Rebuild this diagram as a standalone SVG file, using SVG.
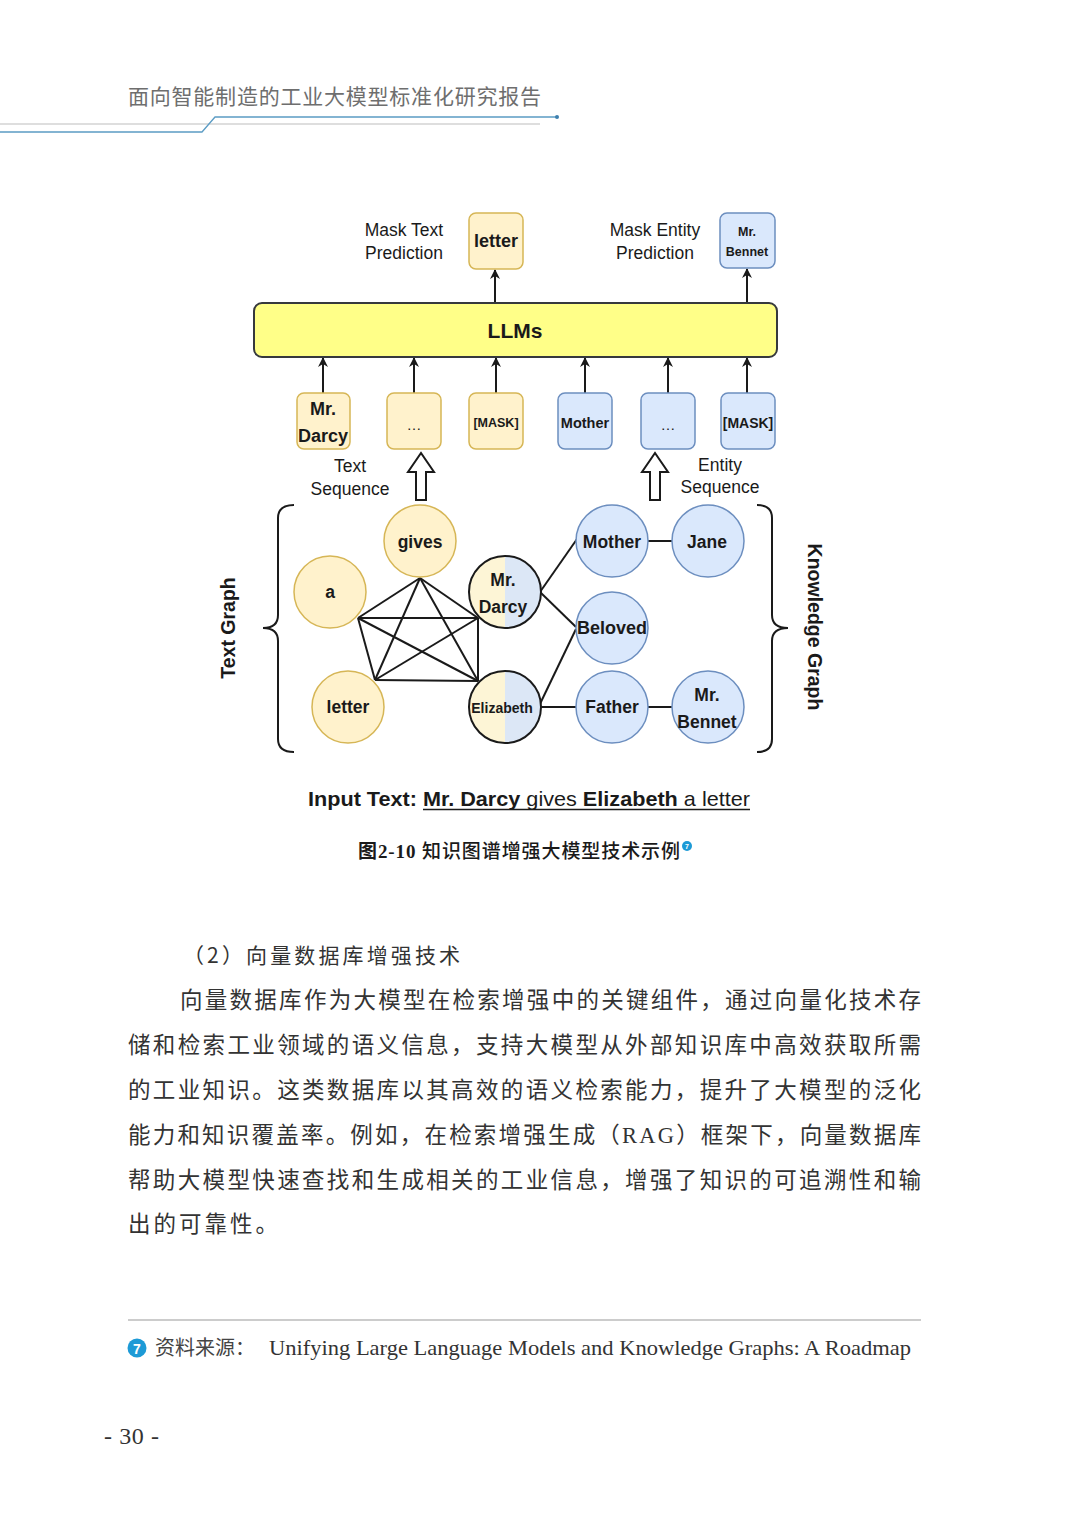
<svg xmlns="http://www.w3.org/2000/svg" width="1080" height="1524" viewBox="0 0 1080 1524">
<style>
.sans{font-family:"Liberation Sans",Arial,sans-serif;fill:#1a1a1a}
.b{font-weight:bold}
.c{text-anchor:middle;dominant-baseline:central}
.yb{fill:#fff2cc;stroke:#d6b656;stroke-width:1.5}
.bb{fill:#dae8fc;stroke:#6c8ebf;stroke-width:1.5}
.edge{stroke:#1a1a1a;stroke-width:2;fill:none}
.arr{stroke:#1a1a1a;stroke-width:2;fill:none;marker-end:url(#ah)}
.cjk{font-family:"Noto Sans CJK SC",sans-serif;fill:#333}
.ser{font-family:"Liberation Serif","Noto Sans CJK SC",serif;fill:#333}
</style>
<defs>
<marker id="ah" markerWidth="10" markerHeight="10" refX="9" refY="5" orient="auto" markerUnits="userSpaceOnUse">
<path d="M0,0 L10,5 L0,10 L3,5 Z" fill="#1a1a1a"/>
</marker>
<clipPath id="lh"><rect x="460" y="540" width="45" height="210"/></clipPath>
<clipPath id="rh"><rect x="505" y="540" width="45" height="210"/></clipPath>
</defs>
<rect width="1080" height="1524" fill="#ffffff"/>

<g id="header">
<text x="128" y="104" class="cjk" style="fill:#6e6e6e;font-size:21px" textLength="413" lengthAdjust="spacing">面向智能制造的工业大模型标准化研究报告</text>
<line x1="0" y1="124" x2="540" y2="124" stroke="#bdbdbd" stroke-width="1.2"/>
<polyline points="0,132 202,132 215,117 557,117" fill="none" stroke="#5b9cc4" stroke-width="1.3"/>
<circle cx="557" cy="117" r="2" fill="#3d7fae"/>
</g>

<g id="connectors">
<line class="arr" x1="495" y1="303" x2="495" y2="270"/>
<line class="arr" x1="747" y1="303" x2="747" y2="269"/>
<line class="arr" x1="323" y1="393" x2="323" y2="358"/>
<line class="arr" x1="414" y1="393" x2="414" y2="358"/>
<line class="arr" x1="496" y1="393" x2="496" y2="358"/>
<line class="arr" x1="585" y1="393" x2="585" y2="358"/>
<line class="arr" x1="668" y1="393" x2="668" y2="358"/>
<line class="arr" x1="747" y1="393" x2="747" y2="358"/>
<path d="M416,500 V472 H408 L421,453 L434,472 H426 V500 Z" fill="#fff" stroke="#1a1a1a" stroke-width="2" stroke-linejoin="miter"/>
<path d="M650,500 V472 H642 L655,453 L668,472 H660 V500 Z" fill="#fff" stroke="#1a1a1a" stroke-width="2" stroke-linejoin="miter"/>
<line class="edge" x1="420" y1="578" x2="358" y2="618"/>
<line class="edge" x1="420" y1="578" x2="478" y2="618"/>
<line class="edge" x1="420" y1="578" x2="375" y2="680"/>
<line class="edge" x1="420" y1="578" x2="478" y2="681"/>
<line class="edge" x1="358" y1="618" x2="478" y2="618"/>
<line class="edge" x1="358" y1="618" x2="375" y2="680"/>
<line class="edge" x1="358" y1="618" x2="478" y2="681"/>
<line class="edge" x1="478" y1="618" x2="375" y2="680"/>
<line class="edge" x1="478" y1="618" x2="478" y2="681"/>
<line class="edge" x1="375" y1="680" x2="478" y2="681"/>
<line class="edge" x1="540" y1="592" x2="577" y2="539"/>
<line class="edge" x1="540" y1="592" x2="576" y2="627"/>
<line class="edge" x1="539" y1="706" x2="576" y2="629"/>
<line class="edge" x1="541" y1="707" x2="576" y2="707"/>
<line class="edge" x1="648" y1="541" x2="672" y2="541"/>
<line class="edge" x1="648" y1="707" x2="672" y2="707"/>
</g>

<g id="mask-text-label"><text class="sans" style="font-size:17.5px" text-anchor="middle"><tspan x="404" y="236">Mask Text</tspan><tspan x="404" y="259">Prediction</tspan></text></g>
<g id="out-letter"><rect class="yb" x="469" y="213" width="54" height="56" rx="7"/><text class="sans b c" x="496" y="241" style="font-size:18px">letter</text></g>
<g id="mask-entity-label"><text class="sans" style="font-size:17.5px" text-anchor="middle"><tspan x="655" y="236">Mask Entity</tspan><tspan x="655" y="259">Prediction</tspan></text></g>
<g id="out-bennet"><rect class="bb" x="720" y="213" width="55" height="55" rx="7"/><text class="sans b c" x="747" y="232" style="font-size:12.5px">Mr.</text><text class="sans b c" x="747" y="252" style="font-size:12.5px">Bennet</text></g>

<g id="llms"><rect x="254" y="303" width="523" height="54" rx="8" fill="#ffff88" stroke="#36393d" stroke-width="2"/><text class="sans b c" x="515" y="330" style="font-size:21px">LLMs</text></g>

<g id="tok-mrdarcy"><rect class="yb" x="297" y="393" width="53" height="56" rx="7"/><text class="sans b c" x="323" y="409" style="font-size:18px">Mr.</text><text class="sans b c" x="323" y="436" style="font-size:18px">Darcy</text></g>
<g id="tok-dots1"><rect class="yb" x="387" y="393" width="54" height="56" rx="7"/><text class="sans c" x="414" y="424" style="font-size:15px">…</text></g>
<g id="tok-mask1"><rect class="yb" x="469" y="393" width="54" height="56" rx="7"/><text class="sans b c" x="496" y="423" style="font-size:12.5px">[MASK]</text></g>
<g id="tok-mother"><rect class="bb" x="558" y="393" width="54" height="56" rx="7"/><text class="sans b c" x="585" y="423" style="font-size:14.5px">Mother</text></g>
<g id="tok-dots2"><rect class="bb" x="641" y="393" width="54" height="56" rx="7"/><text class="sans c" x="668" y="424" style="font-size:15px">…</text></g>
<g id="tok-mask2"><rect class="bb" x="721" y="393" width="54" height="56" rx="7"/><text class="sans b c" x="748" y="423" style="font-size:14px">[MASK]</text></g>

<g id="text-seq-label"><text class="sans" style="font-size:17.5px" text-anchor="middle"><tspan x="350" y="472">Text</tspan><tspan x="350" y="495">Sequence</tspan></text></g>
<g id="entity-seq-label"><text class="sans" style="font-size:17.5px" text-anchor="middle"><tspan x="720" y="471">Entity</tspan><tspan x="720" y="493">Sequence</tspan></text></g>

<g id="braces">
<path d="M294,505 Q278,505 278,518 V615 Q278,628 263,628 Q278,628 278,641 V739 Q278,752 294,752" fill="none" stroke="#1a1a1a" stroke-width="2"/>
<path d="M757,505 Q772,505 772,518 V615 Q772,628 788,628 Q772,628 772,641 V739 Q772,752 757,752" fill="none" stroke="#1a1a1a" stroke-width="2"/>
</g>
<g id="text-graph-label"><text class="sans b c" transform="translate(228,628) rotate(-90)" style="font-size:19.5px">Text Graph</text></g>
<g id="kg-label"><text class="sans b c" transform="translate(815,627) rotate(90)" style="font-size:19.5px">Knowledge Graph</text></g>

<g id="n-gives"><circle class="yb" cx="420" cy="541" r="36"/><text class="sans b c" x="420" y="542" style="font-size:17.5px">gives</text></g>
<g id="n-a"><circle class="yb" cx="330" cy="592" r="36"/><text class="sans b c" x="330" y="592" style="font-size:17.5px">a</text></g>
<g id="n-letter"><circle class="yb" cx="348" cy="707" r="36"/><text class="sans b c" x="348" y="707" style="font-size:17.5px">letter</text></g>
<g id="n-mrdarcy">
<circle cx="505" cy="592" r="36" fill="#fdf5d6" clip-path="url(#lh)"/>
<circle cx="505" cy="592" r="36" fill="#dce7f6" clip-path="url(#rh)"/>
<circle cx="505" cy="592" r="36" fill="none" stroke="#1a1a1a" stroke-width="2"/>
<text class="sans b c" x="503" y="580" style="font-size:17.5px">Mr.</text><text class="sans b c" x="503" y="607" style="font-size:17.5px">Darcy</text></g>
<g id="n-elizabeth">
<circle cx="505" cy="707" r="36" fill="#fdf5d6" clip-path="url(#lh)"/>
<circle cx="505" cy="707" r="36" fill="#dce7f6" clip-path="url(#rh)"/>
<circle cx="505" cy="707" r="36" fill="none" stroke="#1a1a1a" stroke-width="2"/>
<text class="sans b c" x="502" y="708" style="font-size:14px">Elizabeth</text></g>
<g id="n-mother"><circle class="bb" cx="612" cy="541" r="36"/><text class="sans b c" x="612" y="542" style="font-size:17.5px">Mother</text></g>
<g id="n-jane"><circle class="bb" cx="708" cy="541" r="36"/><text class="sans b c" x="707" y="542" style="font-size:17.5px">Jane</text></g>
<g id="n-beloved"><circle class="bb" cx="612" cy="628" r="36"/><text class="sans b c" x="612" y="628" style="font-size:18px">Beloved</text></g>
<g id="n-father"><circle class="bb" cx="612" cy="707" r="36"/><text class="sans b c" x="612" y="707" style="font-size:17.5px">Father</text></g>
<g id="n-bennet"><circle class="bb" cx="708" cy="707" r="36"/><text class="sans b c" x="707" y="695" style="font-size:17.5px">Mr.</text><text class="sans b c" x="707" y="722" style="font-size:17.5px">Bennet</text></g>

<g id="input-text">
<text x="308" y="806" class="sans" style="font-size:21px" textLength="442" lengthAdjust="spacingAndGlyphs"><tspan class="b">Input Text: Mr. Darcy</tspan> gives <tspan class="b">Elizabeth</tspan> a letter</text>
<line x1="423" y1="809.5" x2="750" y2="809.5" stroke="#1a1a1a" stroke-width="1.5"/>
</g>

<g id="caption">
<text x="358" y="858" style="font-size:19px;font-family:'Liberation Serif','Noto Sans CJK SC',serif;fill:#1a1a1a" textLength="322" lengthAdjust="spacing"><tspan font-weight="bold">图2-10</tspan> <tspan font-family="Noto Sans CJK SC" font-weight="500">知识图谱增强大模型技术示例</tspan></text>
<circle cx="687" cy="846" r="5" fill="#1d9ad6"/>
<text x="687" y="849" text-anchor="middle" style="font-size:7px;font-family:'Liberation Sans',sans-serif;fill:#fff;font-weight:bold">7</text>
</g>

<g id="body">
<text x="183" y="963" class="cjk" style="font-size:21px" textLength="277" lengthAdjust="spacing">（2）向量数据库增强技术</text>
<text x="180" y="1008" class="cjk" style="font-size:22.5px" textLength="741" lengthAdjust="spacing">向量数据库作为大模型在检索增强中的关键组件，通过向量化技术存</text>
<text x="128" y="1053" class="cjk" style="font-size:22.5px" textLength="793" lengthAdjust="spacing">储和检索工业领域的语义信息，支持大模型从外部知识库中高效获取所需</text>
<text x="128" y="1098" class="cjk" style="font-size:22.5px" textLength="793" lengthAdjust="spacing">的工业知识。这类数据库以其高效的语义检索能力，提升了大模型的泛化</text>
<text x="128" y="1143" class="cjk" style="font-size:22.5px" textLength="793" lengthAdjust="spacing">能力和知识覆盖率。例如，在检索增强生成（<tspan font-family="Liberation Serif">RAG</tspan>）框架下，向量数据库</text>
<text x="128" y="1188" class="cjk" style="font-size:22.5px" textLength="793" lengthAdjust="spacing">帮助大模型快速查找和生成相关的工业信息，增强了知识的可追溯性和输</text>
<text x="128" y="1232" class="cjk" style="font-size:22.5px;letter-spacing:3px">出的可靠性。</text>
</g>

<g id="footnote">
<line x1="128" y1="1320" x2="921" y2="1320" stroke="#9a9a9a" stroke-width="1.2"/>
<circle cx="137" cy="1348" r="9.5" fill="#1d9ad6"/>
<text x="137" y="1353.5" text-anchor="middle" style="font-size:14px;font-family:'Liberation Sans',sans-serif;fill:#fff;font-weight:bold">7</text>
<text x="155" y="1355" class="cjk" style="font-size:20px;fill:#444">资料来源：</text>
<text x="269" y="1355" class="ser" style="font-size:21.5px" textLength="642" lengthAdjust="spacingAndGlyphs">Unifying Large Language Models and Knowledge Graphs: A Roadmap</text>
</g>

<g id="page-number"><text x="104" y="1444" class="ser" style="font-size:24px" textLength="55" lengthAdjust="spacing">- 30 -</text></g>
</svg>
